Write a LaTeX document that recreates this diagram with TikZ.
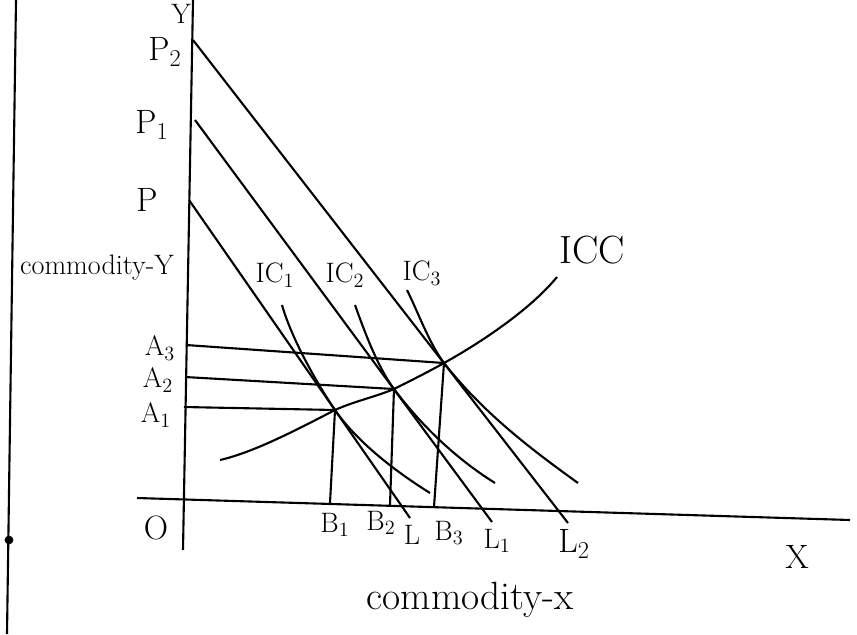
\documentclass[tikz,border=0pt]{standalone}
\usepackage{tikz}

\begin{document}
\begin{tikzpicture}[x=0.025cm, y=-0.025cm, line width=1.5pt,
        lbl/.style={inner sep=1pt, font=\fontsize{24}{26}\selectfont},
        biglbl/.style={inner sep=1pt, font=\fontsize{28}{30}\selectfont},
        smalllbl/.style={inner sep=1pt, font=\fontsize{20}{22}\selectfont}]
    \useasboundingbox (0,0) rectangle (857,634);
    % Margin line
    \coordinate (mtop) at (16,0);
    \coordinate (mbot) at (7,634);
    \draw (mtop) -- (mbot);
    \node[circle, fill, inner sep=2.2pt] (mdot) at (9,540) {};
    % Axes
    \coordinate (ytop) at (193,0);
    \coordinate (ybot) at (183,550);
    \coordinate (xleft) at (137,498);
    \coordinate (xright) at (850,520);
    \draw (ytop) -- (ybot);
    \draw (xleft) -- (xright);
    \node[smalllbl] (ylbl) at (181,14) {Y};
    \node[lbl] (xlbl) at (797,557) {X};
    \node[lbl] (olbl) at (156,528) {O};
    % Budget lines
    \coordinate (P) at (189,200);
    \coordinate (P1) at (195,120);
    \coordinate (P2) at (193,40);
    \coordinate (L) at (410,518);
    \coordinate (L1) at (492,522);
    \coordinate (L2) at (568,523);
    \draw (P) -- (L);
    \draw (P1) -- (L1);
    \draw (P2) -- (L2);
    \node[lbl] (plbl) at (147,200) {P};
    \node[lbl] (p1lbl) at (152,125) {P$_1$};
    \node[lbl] (p2lbl) at (165,52) {P$_2$};
    \node[smalllbl] (llbl) at (412,535) {L};
    \node[smalllbl] (l1lbl) at (497,541) {L$_1$};
    \node[lbl] (l2lbl) at (574,544) {L$_2$};
    % Equilibrium points
    \coordinate (E1) at (335,410);
    \coordinate (E2) at (394,389);
    \coordinate (E3) at (444,363);
    \coordinate (A1) at (184,407);
    \coordinate (A2) at (185,377);
    \coordinate (A3) at (186,345);
    \coordinate (B1) at (330,503);
    \coordinate (B2) at (390,505);
    \coordinate (B3) at (434,507);
    \draw (A1) -- (E1) -- (B1);
    \draw (A2) -- (E2) -- (B2);
    \draw (A3) -- (E3) -- (B3);
    \node[smalllbl] (a1lbl) at (156,415) {A$_1$};
    \node[smalllbl] (a2lbl) at (158,380) {A$_2$};
    \node[smalllbl] (a3lbl) at (160,348) {A$_3$};
    \node[smalllbl] (b1lbl) at (335,525) {B$_1$};
    \node[smalllbl] (b2lbl) at (381,523) {B$_2$};
    \node[smalllbl] (b3lbl) at (449,533) {B$_3$};
    % Indifference curves
    \coordinate (ic1s) at (282,305);
    \coordinate (ic1e) at (430,493);
    \coordinate (ic2s) at (355,305);
    \coordinate (ic2e) at (495,483);
    \coordinate (ic3s) at (407,290);
    \coordinate (ic3e) at (578,483);
    \draw (ic1s) .. controls (292,340) and (318,385) .. (E1)
        .. controls (355,439) and (390,468) .. (ic1e);
    \draw (ic2s) .. controls (364,330) and (377,366) .. (E2)
        .. controls (421,425) and (455,458) .. (ic2e);
    \draw (ic3s) .. controls (418,312) and (429,343) .. (E3)
        .. controls (481,410) and (525,445) .. (ic3e);
    \node[smalllbl] (ic1lbl) at (275,275) {IC$_1$};
    \node[smalllbl] (ic2lbl) at (345,275) {IC$_2$};
    \node[smalllbl] (ic3lbl) at (422,273) {IC$_3$};
    % Income consumption curve
    \coordinate (iccs) at (220,460);
    \coordinate (icce) at (557,277);
    \draw (iccs) .. controls (255,452) and (300,428) .. (E1)
        .. controls (355,401) and (375,397) .. (E2)
        .. controls (412,380) and (428,372) .. (E3)
        .. controls (480,343) and (530,310) .. (icce);
    \node[biglbl] (icclbl) at (592,250) {ICC};
    % Axis titles
    \node[smalllbl] (ytitle) at (97,268) {commodity-Y};
    \node[biglbl] (xtitle) at (470,600) {commodity-x};
\end{tikzpicture}
\end{document}
